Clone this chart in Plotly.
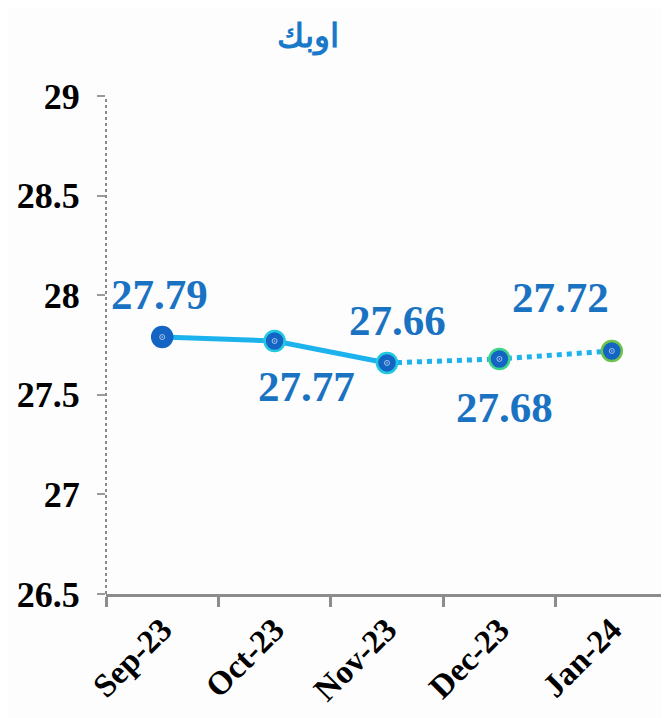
import plotly.graph_objects as go

# data
months = ["Sep-23", "Oct-23", "Nov-23", "Dec-23", "Jan-24"]
values = [27.79, 27.77, 27.66, 27.68, 27.72]
labels = ["27.79", "27.77", "27.66", "27.68", "27.72"]
y_ticks = [26.5, 27, 27.5, 28, 28.5, 29]

line_blue = "#1cb2ee"
dot_blue = "#1464c4"
label_blue = "#1a73c2"
rim = ["#1464c4", "#22c8e0", "#22c8e0", "#3ed38a", "#6cc24a"]

fig = go.Figure()

# actual (solid) part
fig.add_trace(go.Scatter(
    x=months[:3], y=values[:3], mode="lines",
    line=dict(color=line_blue, width=5), hoverinfo="skip"))

# forecast (dotted) part
fig.add_trace(go.Scatter(
    x=months[2:], y=values[2:], mode="lines",
    line=dict(color=line_blue, width=5, dash="dot"), hoverinfo="skip"))

fig.add_trace(go.Scatter(
    x=months, y=values, mode="markers",
    marker=dict(size=20, color=dot_blue, line=dict(color=rim, width=2.5))))
fig.add_trace(go.Scatter(
    x=months, y=values, mode="markers",
    marker=dict(size=5, color="rgba(255,255,255,0.6)", symbol="circle-open-dot",
                line=dict(color="rgba(255,255,255,0.55)", width=1)),
    hoverinfo="skip"))

# label offsets (px)
offsets = [(-3, 43), (32, -45), (10, 42), (5, -49), (-51, 53)]
for m, v, t, (dx, dy) in zip(months, values, labels, offsets):
    fig.add_annotation(x=m, y=v, text=t, showarrow=False, xshift=dx, yshift=dy,
                       font=dict(family="Liberation Serif", size=43, color=label_blue,
                                 weight="bold"))

# dotted y axis line
fig.add_shape(type="line", xref="paper", yref="y", x0=0, x1=0, y0=26.5, y1=29,
              line=dict(color="#8a8a8a", width=2, dash="dot"))

# page body has an 8px margin, so the figure is a bit smaller than the window
fig.update_layout(
    width=661, height=710,
    margin=dict(l=98, r=1, t=88, b=124),
    paper_bgcolor="#fdfdfd", plot_bgcolor="#fdfdfd",
    showlegend=False,
    title=dict(text="اوبك", x=0.454, xanchor="center", y=0.962, yanchor="middle",
               font=dict(family="Noto Sans", size=33, color="#1a78c8", weight="bold")),
    xaxis=dict(showgrid=False, showline=True, linecolor="#8c8c8c", linewidth=3,
               ticks="outside", tickson="boundaries", ticklen=10, tickwidth=3,
               tickcolor="#8c8c8c", tickangle=-45, automargin=False,
               tickfont=dict(family="Liberation Serif", size=33, color="black", weight="bold"),
               range=[-0.5, 4.5]),
    yaxis=dict(range=[26.5, 29], tickvals=y_ticks, ticktext=[f"{v:g}" for v in y_ticks],
               showgrid=False, zeroline=False, showline=False, automargin=False,
               ticks="outside", ticklen=8, tickwidth=2, tickcolor="#9a9a9a",
               ticklabelstandoff=10,
               tickfont=dict(family="Liberation Serif", size=36, color="black", weight="bold")),
)

fig.write_html("out.html")
